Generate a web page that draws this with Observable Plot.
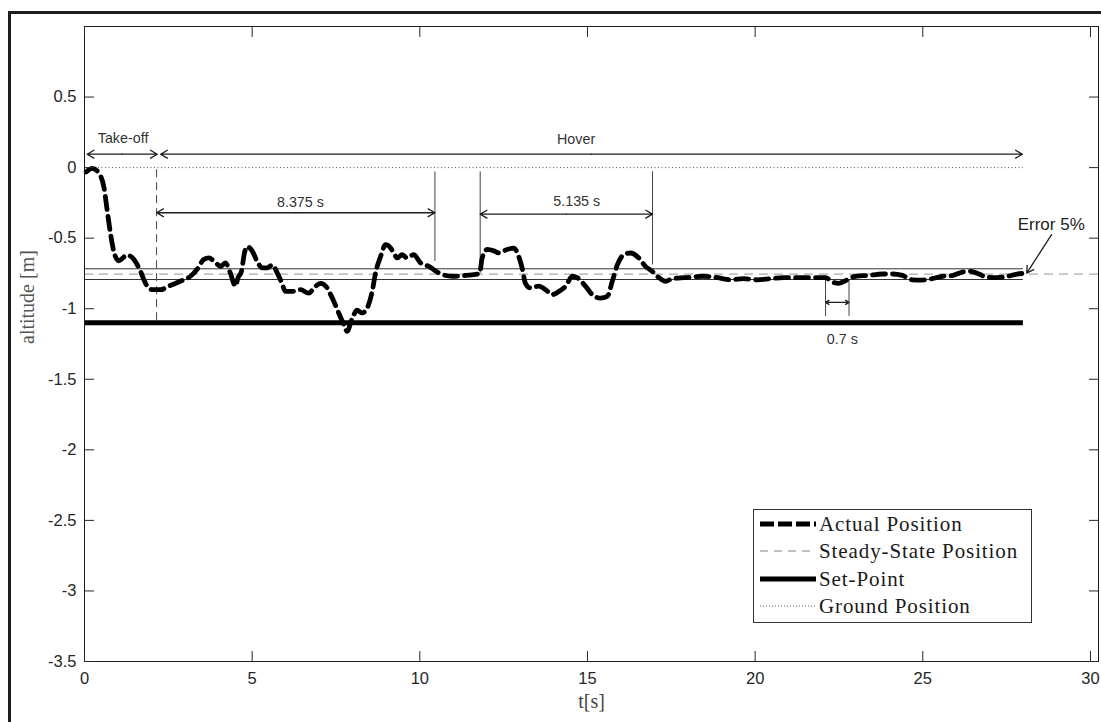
<!DOCTYPE html>
<html><head><meta charset="utf-8">
<script src="https://cdn.jsdelivr.net/npm/d3@7"></script>
<script src="https://cdn.jsdelivr.net/npm/@observablehq/plot@0.6"></script>
<style>
body{margin:0;background:#fff;}
#wrap{position:relative;width:1101px;height:722px;overflow:hidden;background:#fff;}
#wrap svg.plot{position:absolute;left:0;top:0;}
#border{position:absolute;left:8px;top:11px;width:1300px;height:900px;border-left:3px solid #1e1e1e;border-top:3px solid #1e1e1e;box-sizing:border-box;}
#legend{position:absolute;left:753px;top:509px;width:279px;height:114px;border:1px solid #333;background:#fff;font-family:"Liberation Serif",serif;font-size:21px;letter-spacing:0.9px;color:#1a1a1a;box-sizing:border-box;}
.row{position:absolute;left:0;height:24px;width:100%;}
.row svg{position:absolute;left:5px;top:2px;}
.row span{position:absolute;left:65px;top:0;line-height:24px;white-space:nowrap;}
</style></head><body><div id="wrap"><div id="border"></div></div>
<script>
// ---- data ----
const tActual = [0.05,0.23,0.43,0.58,0.68,0.78,0.87,1.02,1.27,1.47,1.67,1.82,2.02,2.27,2.51,2.86,3.16,3.36,3.56,3.71,3.91,4.06,4.2,4.35,4.5,4.58,4.68,4.77,4.85,5.0,5.15,5.3,5.45,5.6,5.75,5.89,5.99,6.24,6.44,6.69,6.84,7.04,7.24,7.34,7.44,7.58,7.73,7.83,7.98,8.13,8.28,8.43,8.58,8.68,8.83,8.98,9.13,9.23,9.33,9.47,9.62,9.82,10.02,10.27,10.57,10.97,11.3,11.56,11.78,11.86,12.01,12.21,12.36,12.6,12.8,12.95,13.05,13.15,13.3,13.55,13.75,13.95,14.15,14.35,14.55,14.69,14.94,15.14,15.39,15.59,15.74,15.89,16.08,16.28,16.53,16.73,16.93,17.13,17.33,17.53,17.9,18.47,18.87,19.27,19.66,20.06,20.46,20.86,21.46,21.85,22.1,22.3,22.5,22.75,22.99,23.39,23.79,24.09,24.39,24.68,24.98,25.28,25.58,25.88,26.18,26.42,26.67,26.92,27.22,27.52,27.81,27.98];
const vActual = [-0.03,-0.005,-0.04,-0.14,-0.31,-0.475,-0.59,-0.66,-0.62,-0.65,-0.735,-0.82,-0.865,-0.865,-0.84,-0.805,-0.77,-0.72,-0.65,-0.64,-0.675,-0.70,-0.675,-0.747,-0.84,-0.78,-0.735,-0.605,-0.56,-0.59,-0.665,-0.71,-0.71,-0.69,-0.747,-0.82,-0.877,-0.877,-0.865,-0.89,-0.853,-0.82,-0.853,-0.90,-0.95,-1.03,-1.11,-1.16,-1.07,-1.01,-1.03,-0.995,-0.877,-0.747,-0.63,-0.546,-0.57,-0.61,-0.64,-0.617,-0.64,-0.617,-0.675,-0.70,-0.747,-0.77,-0.765,-0.76,-0.75,-0.64,-0.58,-0.59,-0.605,-0.58,-0.57,-0.63,-0.71,-0.82,-0.853,-0.84,-0.865,-0.90,-0.877,-0.84,-0.77,-0.78,-0.84,-0.90,-0.925,-0.913,-0.806,-0.69,-0.617,-0.605,-0.64,-0.70,-0.735,-0.78,-0.806,-0.787,-0.78,-0.77,-0.78,-0.795,-0.787,-0.795,-0.787,-0.78,-0.78,-0.78,-0.78,-0.81,-0.82,-0.795,-0.77,-0.764,-0.754,-0.754,-0.764,-0.795,-0.797,-0.787,-0.77,-0.765,-0.74,-0.735,-0.754,-0.778,-0.78,-0.77,-0.754,-0.75];

const groundLevel = 0;
const setPoint = -1.1;
const steadyState = -0.755;
const bandLevels = [-0.717, -0.793];
const lineEnd = 28;
const xMax = 30.24;

const xTicks = [0, 5, 10, 15, 20, 25, 30];
const yTicks = [0.5, 0, -0.5, -1, -1.5, -2, -2.5, -3, -3.5];

const spanLabels = ["Take-off", "Hover", "8.375 s", "5.135 s", "0.7 s"];
const spanStart  = [0.08, 2.27, 2.15, 11.8, 22.1];
const spanEnd    = [2.17, 27.97, 10.45, 16.94, 22.8];
const spanLevel  = [0.095, 0.095, -0.32, -0.33, -0.955];
const labelT     = [1.15, 14.66, 6.44, 14.68, 22.6];
const labelV     = [0.21, 0.2, -0.25, -0.24, -1.22];

const markerT      = [10.45, 11.8, 16.94, 22.1, 22.8];
const markerTop    = [-0.03, -0.03, -0.03, -0.795, -0.795];
const markerBottom = [-0.665, -0.75, -0.69, -1.055, -1.055];
const takeoffT = 2.15, takeoffTop = -0.015, takeoffBottom = -1.09;

const errorLabel = "Error 5%";
const errorText = [28.83, -0.404];
const errorArrow = [28.84, -0.475, 28.1, -0.748];

const legendLabels = ["Actual Position", "Steady-State Position", "Set-Point", "Ground Position"];

// ---- tables ----
const actual = tActual.map((t, i) => ({t, v: vActual[i]}));
const spans = spanLabels.map((label, i) => ({label, a: spanStart[i], b: spanEnd[i], y: spanLevel[i], m: (spanStart[i] + spanEnd[i]) / 2, lt: labelT[i], lv: labelV[i]}));
const bigSpans = spans.filter(s => s.b - s.a > 1.5);
const smallSpans = spans.filter(s => s.b - s.a <= 1.5);
const markers = markerT.map((t, i) => ({t, top: markerTop[i], bottom: markerBottom[i]}));

const serif = "'Liberation Serif', 'Times New Roman', serif";
const arrowStyle = {stroke: "#1e1e1e", strokeWidth: 1.3};

const chart = Plot.plot({
  width: 1101, height: 722,
  marginLeft: 84, marginRight: 3, marginTop: 26, marginBottom: 61,
  style: {fontFamily: "'Liberation Sans', Arial, sans-serif", fontSize: "16.5px", color: "#262626", background: "transparent", overflow: "visible"},
  x: {domain: [0, xMax]},
  y: {domain: [-3.5, 1.0]},
  marks: [
    Plot.ruleY([groundLevel], {x1: 0, x2: lineEnd, stroke: "#555", strokeWidth: 1, strokeDasharray: "1,2.5"}),
    Plot.ruleY([steadyState], {x1: 0, x2: xMax, stroke: "#aaa", strokeWidth: 1.3, strokeDasharray: "9,6"}),
    Plot.ruleY(bandLevels, {x1: 0, x2: lineEnd, stroke: "#333", strokeWidth: 1}),
    Plot.ruleY([setPoint], {x1: 0, x2: lineEnd, stroke: "#000", strokeWidth: 5}),
    Plot.ruleX([takeoffT], {y1: takeoffTop, y2: takeoffBottom, stroke: "#444", strokeWidth: 1, strokeDasharray: "8,5"}),
    Plot.ruleX(markers, {x: "t", y1: "top", y2: "bottom", stroke: "#444", strokeWidth: 1}),
    Plot.line(actual, {x: "t", y: "v", stroke: "#000", strokeWidth: 4.8, strokeDasharray: "13,7", curve: "monotone-x"}),
    // double-headed span arrows: two halves drawn outward from the midpoint
    Plot.arrow(bigSpans, {x1: "m", x2: "a", y1: "y", y2: "y", headLength: 9, ...arrowStyle}),
    Plot.arrow(bigSpans, {x1: "m", x2: "b", y1: "y", y2: "y", headLength: 9, ...arrowStyle}),
    Plot.arrow(smallSpans, {x1: "m", x2: "a", y1: "y", y2: "y", headLength: 6, ...arrowStyle}),
    Plot.arrow(smallSpans, {x1: "m", x2: "b", y1: "y", y2: "y", headLength: 6, ...arrowStyle}),
    Plot.text(spans, {x: "lt", y: "lv", text: "label", fontSize: 14.3, fill: "#333"}),
    Plot.arrow([errorArrow], {x1: d => d[0], y1: d => d[1], x2: d => d[2], y2: d => d[3], headLength: 9, ...arrowStyle}),
    Plot.text([errorLabel], {x: errorText[0], y: errorText[1], text: d => d, fontSize: 17, fill: "#222"}),
    Plot.frame({stroke: "#1a1a1a"}),
    Plot.axisX(xTicks, {anchor: "bottom", tickSize: -10, tickPadding: 21, label: null}),
    Plot.axisX(xTicks, {anchor: "top", tickSize: -10, tickFormat: () => "", label: null}),
    Plot.axisY(yTicks, {anchor: "left", tickSize: -10, tickPadding: 18, tickFormat: d => String(d), label: null}),
    Plot.axisY(yTicks, {anchor: "right", tickSize: -10, tickFormat: () => "", label: null}),
    Plot.text(["t[s]"], {text: d => d, frameAnchor: "bottom", dy: 46, fontFamily: serif, fontSize: 20, fill: "#444"}),
    Plot.text(["altitude [m]"], {text: d => d, frameAnchor: "left", dx: -57, rotate: -90, fontFamily: serif, fontSize: 20, fill: "#555"})
  ]
});
chart.classList.add("plot");
const wrap = document.getElementById("wrap");
wrap.appendChild(chart);

// ---- legend ----
const legendStyles = [
  {stroke: "#000", width: 5, dash: "14,4"},
  {stroke: "#aaa", width: 1.3, dash: "8,6"},
  {stroke: "#000", width: 5, dash: null},
  {stroke: "#555", width: 1, dash: "1,2"}
];
const legend = document.createElement("div");
legend.id = "legend";
legendLabels.forEach((lab, i) => {
  const row = document.createElement("div");
  row.className = "row";
  row.style.top = (2 + i * 27.3) + "px";
  const s = legendStyles[i];
  row.innerHTML = `<svg width="58" height="20"><line x1="1" x2="57" y1="10" y2="10" stroke="${s.stroke}" stroke-width="${s.width}" ${s.dash ? `stroke-dasharray="${s.dash}"` : ""}/></svg><span>${lab}</span>`;
  legend.appendChild(row);
});
wrap.appendChild(legend);
</script>
</body></html>
